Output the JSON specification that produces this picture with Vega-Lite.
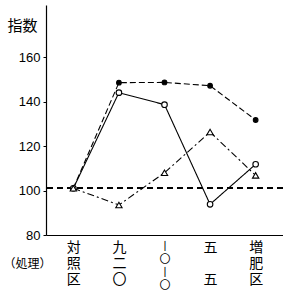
{
  "$schema": "https://vega.github.io/schema/vega-lite/v6.json",
  "width": 237,
  "height": 230,
  "autosize": "none",
  "padding": {"left": 46, "top": 5, "right": 0, "bottom": 56},
  "background": "white",
  "config": {"view": {"stroke": null}},
  "data": {
    "values": [
      {"cat": "対照区", "series": "A", "v": 101},
      {"cat": "九二〇", "series": "A", "v": 148.5},
      {"cat": "一〇一〇", "series": "A", "v": 148.6},
      {"cat": "五五", "series": "A", "v": 147.1},
      {"cat": "増肥区", "series": "A", "v": 131.7},
      {"cat": "対照区", "series": "B", "v": 101},
      {"cat": "九二〇", "series": "B", "v": 144},
      {"cat": "一〇一〇", "series": "B", "v": 138.6},
      {"cat": "五五", "series": "B", "v": 93.8},
      {"cat": "増肥区", "series": "B", "v": 111.8},
      {"cat": "対照区", "series": "C", "v": 101},
      {"cat": "九二〇", "series": "C", "v": 93.5},
      {"cat": "一〇一〇", "series": "C", "v": 108},
      {"cat": "五五", "series": "C", "v": 126.3},
      {"cat": "増肥区", "series": "C", "v": 106.8}
    ]
  },
  "encoding": {
    "x": {
      "field": "cat",
      "type": "nominal",
      "sort": ["対照区", "九二〇", "一〇一〇", "五五", "増肥区"],
      "scale": {"type": "point", "padding": 0.6},
      "axis": {
        "title": "（処理）",
        "titleX": -19,
        "titleY": 28,
        "titleAlign": "center",
        "titleBaseline": "middle",
        "titleFontSize": 12,
        "titleFontWeight": "normal",
        "titleFont": "Noto Sans CJK JP",
        "titleColor": "black",
        "domainColor": "black",
        "domainWidth": 1.2,
        "ticks": false,
        "labelAngle": 0,
        "labelAlign": "center",
        "labelBaseline": "top",
        "labelPadding": 5,
        "labelFont": "Noto Sans CJK JP",
        "labelFontSize": {"condition": {"test": "datum.value === '一〇一〇'", "value": 11}, "value": 14},
        "labelColor": "black",
        "labelOverlap": false,
        "labelExpr": "indexof(datum.value, '五') >= 0 ? ['五', '\u200b', '五'] : datum.value === '一〇一〇' ? ['丨', '〇', '丨', '〇'] : split(datum.value, '')"
      }
    },
    "y": {
      "field": "v",
      "type": "quantitative",
      "scale": {"domain": [80, 183.4], "nice": false, "zero": false},
      "axis": {
        "values": [80, 100, 120, 140, 160],
        "grid": false,
        "title": "指数",
        "titleAngle": 0,
        "titleX": -24,
        "titleY": 20,
        "titleAlign": "center",
        "titleBaseline": "middle",
        "titleFont": "Noto Sans CJK JP",
        "titleFontSize": 15,
        "titleFontWeight": "normal",
        "titleColor": "black",
        "domainColor": "black",
        "domainWidth": 1.2,
        "tickSize": 3,
        "tickColor": "black",
        "labelPadding": 3,
        "labelFont": "Liberation Sans",
        "labelFontSize": 13,
        "labelColor": "black",
        "labelFlush": false,
        "labelOverlap": false
      }
    }
  },
  "layer": [
    {
      "mark": {"type": "rule", "stroke": "black", "strokeWidth": 1.2, "strokeDash": [6, 4]},
      "encoding": {"x": null, "y": {"datum": 101, "type": "quantitative"}}
    },
    {
      "mark": {"type": "line", "color": "black", "strokeWidth": 1.1},
      "encoding": {
        "detail": {"field": "series"},
        "strokeDash": {
          "field": "series",
          "type": "nominal",
          "scale": {"domain": ["A", "B", "C"], "range": [[6, 3], [1, 0], [7, 3, 2, 3]]},
          "legend": null
        }
      }
    },
    {
      "mark": {"type": "point", "filled": true, "stroke": "black", "strokeWidth": 1.1, "opacity": 1, "fillOpacity": 1},
      "encoding": {
        "shape": {
          "field": "series",
          "type": "nominal",
          "scale": {"domain": ["A", "B", "C"], "range": ["circle", "circle", "triangle-up"]},
          "legend": null
        },
        "fill": {
          "field": "series",
          "type": "nominal",
          "scale": {"domain": ["A", "B", "C"], "range": ["black", "white", "white"]},
          "legend": null
        },
        "size": {
          "field": "series",
          "type": "nominal",
          "scale": {"domain": ["A", "B", "C"], "range": [22, 40, 22]},
          "legend": null
        }
      }
    }
  ]
}
